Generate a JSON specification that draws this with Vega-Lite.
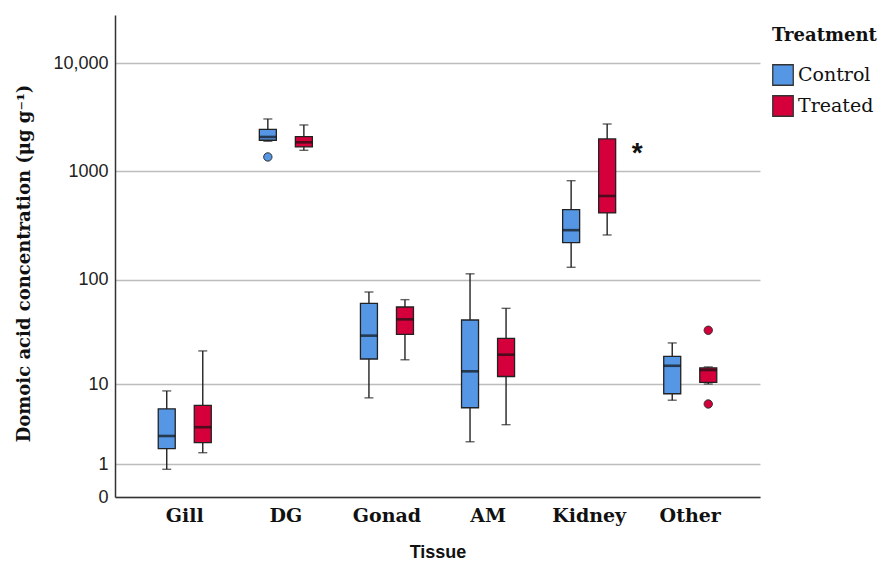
{
  "$schema": "https://vega.github.io/schema/vega-lite/v6.json",
  "width": 645,
  "height": 482,
  "autosize": {"type": "none"},
  "padding": {"left": 115, "top": 15, "right": 118, "bottom": 72},
  "background": "white",
  "config": {
    "view": {"stroke": null},
    "axis": {"domainColor": "#333333", "domainWidth": 1.5, "gridColor": "#bdbdbd", "gridWidth": 1.5}
  },
  "datasets": {
    "boxes": [
      {"Tissue": "Gill", "Treatment": "Control", "min": 0.8, "q1": 1.79, "median": 2.65, "q3": 5.5, "max": 8.5},
      {"Tissue": "Gill", "Treatment": "Treated", "min": 1.56, "q1": 2.17, "median": 3.4, "q3": 6.0, "max": 21.2},
      {"Tissue": "DG", "Treatment": "Control", "min": 1900, "q1": 1940, "median": 2081, "q3": 2449, "max": 3048},
      {"Tissue": "DG", "Treatment": "Treated", "min": 1567, "q1": 1683, "median": 1859, "q3": 2094, "max": 2684},
      {"Tissue": "Gonad", "Treatment": "Control", "min": 7.2, "q1": 17.7, "median": 29.7, "q3": 60, "max": 76.5},
      {"Tissue": "Gonad", "Treatment": "Treated", "min": 17.4, "q1": 30.6, "median": 42.4, "q3": 55.4, "max": 64.9},
      {"Tissue": "AM", "Treatment": "Control", "min": 2.23, "q1": 5.65, "median": 13.4, "q3": 41.8, "max": 113},
      {"Tissue": "AM", "Treatment": "Treated", "min": 3.64, "q1": 11.9, "median": 19.5, "q3": 28, "max": 53.8},
      {"Tissue": "Kidney", "Treatment": "Control", "min": 130, "q1": 220, "median": 287, "q3": 444, "max": 822},
      {"Tissue": "Kidney", "Treatment": "Treated", "min": 259, "q1": 414, "median": 594, "q3": 1994, "max": 2740},
      {"Tissue": "Other", "Treatment": "Control", "min": 6.8, "q1": 7.95, "median": 15.2, "q3": 18.8, "max": 25.3},
      {"Tissue": "Other", "Treatment": "Treated", "min": 10.0, "q1": 10.4, "median": 13.8, "q3": 14.5, "max": 14.8}
    ],
    "outliers": [
      {"Tissue": "DG", "Treatment": "Control", "value": 1361},
      {"Tissue": "Other", "Treatment": "Treated", "value": 33.4},
      {"Tissue": "Other", "Treatment": "Treated", "value": 6.2}
    ],
    "notes": [
      {"Tissue": "Kidney", "Treatment": "Treated", "value": 1500, "label": "*"}
    ]
  },
  "encoding": {
    "x": {
      "field": "Tissue", "type": "nominal",
      "sort": ["Gill", "DG", "Gonad", "AM", "Kidney", "Other"],
      "scale": {"domain": ["Gill", "DG", "Gonad", "AM", "Kidney", "Other"], "paddingInner": 0, "paddingOuter": 0.19},
      "axis": {
        "title": "Tissue", "labelAngle": 0, "ticks": false, "labelPadding": 9,
        "labelFont": "DejaVu Serif", "labelFontSize": 19, "labelFontWeight": "bold", "labelColor": "#111",
        "titleFont": "Liberation Sans", "titleFontSize": 18, "titleFontWeight": "bold", "titleColor": "#111",
        "titlePadding": 18
      }
    },
    "xOffset": {
      "field": "Treatment", "type": "nominal",
      "scale": {"domain": ["Control", "Treated"], "paddingInner": 0, "paddingOuter": 0.403}
    }
  },
  "layer": [
    {
      "data": {"name": "boxes"},
      "mark": {"type": "rule", "color": "#222", "strokeWidth": 1.4},
      "encoding": {
        "y": {
          "field": "min", "type": "quantitative",
          "scale": {"type": "symlog", "constant": 1, "domain": [0, 27700], "nice": false, "zero": false},
          "axis": {
            "title": "Domoic acid concentration (μg g⁻¹)",
            "values": [0, 1, 10, 100, 1000, 10000],
            "labelExpr": "datum.value == 10000 ? '10,000' : format(datum.value, 'd')",
            "grid": true, "ticks": false, "labelPadding": 7,
            "labelFont": "Liberation Sans", "labelFontSize": 18, "labelColor": "#222",
            "titleFont": "DejaVu Serif", "titleFontSize": 18, "titleFontWeight": "bold", "titleColor": "#111",
            "titlePadding": 19, "titleY": 248
          }
        },
        "y2": {"field": "max"}
      }
    },
    {
      "data": {"name": "boxes"},
      "mark": {"type": "tick", "color": "#222", "thickness": 1.4, "size": 9, "orient": "horizontal"},
      "encoding": {"y": {"field": "max", "type": "quantitative"}}
    },
    {
      "data": {"name": "boxes"},
      "mark": {"type": "tick", "color": "#222", "thickness": 1.4, "size": 9, "orient": "horizontal"},
      "encoding": {"y": {"field": "min", "type": "quantitative"}}
    },
    {
      "data": {"name": "boxes"},
      "mark": {"type": "bar", "width": 17, "stroke": "#222", "strokeWidth": 1.3, "opacity": 1},
      "encoding": {
        "y": {"field": "q1", "type": "quantitative"},
        "y2": {"field": "q3"},
        "color": {
          "field": "Treatment", "type": "nominal",
          "scale": {"domain": ["Control", "Treated"], "range": ["#5597e4", "#d5003b"]},
          "legend": {
            "title": "Treatment", "orient": "right", "offset": 0, "padding": 12,
            "symbolType": "square", "symbolSize": 420, "symbolStrokeColor": "#222", "symbolStrokeWidth": 1.3,
            "symbolOpacity": 1,
            "labelFont": "DejaVu Serif", "labelFontSize": 19, "labelColor": "#111", "labelOffset": 4,
            "titleFont": "DejaVu Serif", "titleFontSize": 18, "titleFontWeight": "bold", "titleColor": "#111",
            "titlePadding": 19, "rowPadding": 5
          }
        }
      }
    },
    {
      "data": {"name": "boxes"},
      "mark": {"type": "tick", "color": "#111", "thickness": 2.6, "size": 17, "orient": "horizontal"},
      "encoding": {"y": {"field": "median", "type": "quantitative"}}
    },
    {
      "data": {"name": "outliers"},
      "mark": {"type": "point", "filled": true, "size": 70, "stroke": "#333", "strokeWidth": 1, "opacity": 1},
      "encoding": {
        "y": {"field": "value", "type": "quantitative"},
        "color": {"field": "Treatment", "type": "nominal"}
      }
    },
    {
      "data": {"name": "notes"},
      "mark": {"type": "text", "dx": 30, "dy": 2, "fontSize": 28, "fontWeight": "bold", "font": "Liberation Sans", "color": "#111"},
      "encoding": {
        "y": {"field": "value", "type": "quantitative"},
        "text": {"field": "label"}
      }
    }
  ]
}
